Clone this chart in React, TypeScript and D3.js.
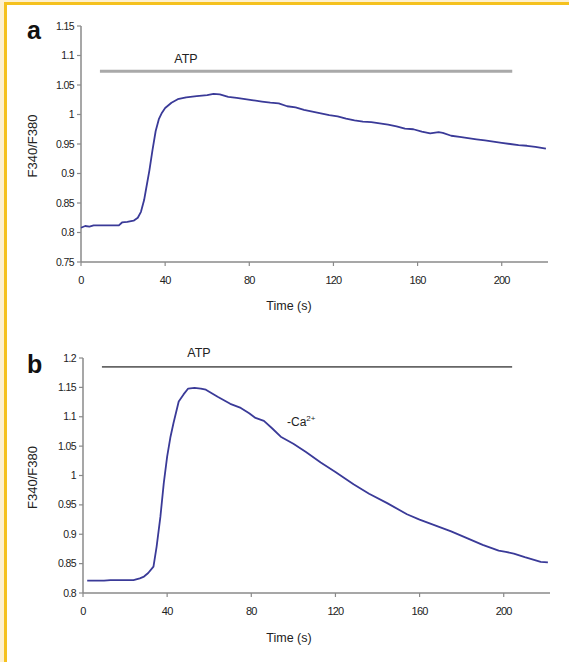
import React from 'react';
import * as d3 from 'd3';

// panel a: time (s) and F340/F380 ratio
const timeA = [0, 2, 4, 6, 10, 14, 18, 19.5, 22, 25, 27, 28.5, 30, 31, 32.5, 34, 35.5, 37, 38.5, 40, 43, 46, 50, 55, 60, 63, 66, 70, 74, 78, 82, 86, 90, 94, 98, 102, 106, 110, 114, 118, 122, 126, 130, 134, 138, 142, 146, 150, 154, 158, 162, 166, 170, 172, 176, 180, 184, 188, 192, 196, 200, 204, 208, 212, 216, 221];
const ratioA = [0.808, 0.811, 0.81, 0.812, 0.812, 0.812, 0.812, 0.817, 0.818, 0.82, 0.825, 0.835, 0.855, 0.875, 0.905, 0.94, 0.972, 0.992, 1.003, 1.011, 1.02, 1.026, 1.029, 1.031, 1.033, 1.035, 1.034, 1.03, 1.028, 1.026, 1.024, 1.022, 1.02, 1.019, 1.014, 1.012, 1.008, 1.005, 1.002, 0.999, 0.997, 0.993, 0.99, 0.988, 0.987, 0.985, 0.983, 0.98, 0.976, 0.975, 0.971, 0.968, 0.97, 0.969, 0.964, 0.962, 0.96, 0.958, 0.956, 0.954, 0.952, 0.95, 0.948, 0.947, 0.945, 0.942];

// panel b
const timeB = [2, 10, 13, 24, 27, 29, 31, 33.5, 35, 36.8, 38.4, 40, 41.6, 43, 45.5, 47.8, 50, 53, 56, 58.4, 64, 70, 75, 79, 82, 86, 90, 94, 100, 106, 113, 120, 128.6, 136, 144.6, 154, 160, 166.7, 175, 182.8, 190, 197.6, 201, 204.8, 210, 217.6, 221];
const ratioB = [0.821, 0.821, 0.822, 0.822, 0.825, 0.828, 0.834, 0.845, 0.879, 0.93, 0.987, 1.032, 1.066, 1.089, 1.126, 1.138, 1.148, 1.149, 1.148, 1.146, 1.134, 1.122, 1.115, 1.106, 1.098, 1.093, 1.08, 1.066, 1.054, 1.04, 1.022, 1.006, 0.985, 0.969, 0.953, 0.934, 0.925, 0.916, 0.905, 0.893, 0.882, 0.872, 0.87, 0.867, 0.861, 0.853, 0.852];

const xTicks = [0, 40, 80, 120, 160, 200];
const yTicksA = [0.75, 0.8, 0.85, 0.9, 0.95, 1, 1.05, 1.1, 1.15];
const yTickLabelsA = ['0.75', '0.8', '0.85', '0.9', '0.95', '1', '1.05', '1.1', '1.15'];
const yTicksB = [0.8, 0.85, 0.9, 0.95, 1, 1.05, 1.1, 1.15, 1.2];
const yTickLabelsB = ['0.8', '0.85', '0.9', '0.95', '1', '1.05', '1.1', '1.15', '1.2'];

// ATP bar: start / end time and level
const atpA = [9, 205, 1.0735];
const atpB = [9, 204, 1.185];

const width = 569;
const height = 662;
const font = 'Liberation Sans, Arial, sans-serif';
const axisColor = '#8a8a8a';
const lineColor = '#3a3a98';

type PanelProps = {
  letter: string;
  times: number[];
  values: number[];
  yDomain: [number, number];
  yTicks: number[];
  yLabels: string[];
  xRange: [number, number];
  yRange: [number, number];
  atp: number[];
  atpStyle: { stroke: string; width: number };
  atpTextY: number;
  atpTextX: number;
  timeLabelY: number;
  letterY: number;
  children?: (x: d3.ScaleLinear<number, number>, y: d3.ScaleLinear<number, number>) => React.ReactNode;
};

const Panel = (p: PanelProps) => {
  const x = d3.scaleLinear([0, 222], p.xRange);
  const y = d3.scaleLinear(p.yDomain, p.yRange);
  const line = d3.line<number>()
    .x((_, i) => x(p.times[i]))
    .y(d => y(d))
    .curve(d3.curveLinear);
  const x0 = p.xRange[0];
  const yBase = p.yRange[0];
  const midY = (p.yRange[0] + p.yRange[1]) / 2;

  return (
    <g>
      <text x={27} y={p.letterY} fontFamily={font} fontWeight="bold" fontSize={25} fill="#111">{p.letter}</text>
      {/* y axis */}
      <line x1={x0} x2={x0} y1={p.yRange[1]} y2={yBase} stroke={axisColor} strokeWidth={1.5} />
      {p.yTicks.map((t, i) => (
        <g key={'y' + i}>
          <line x1={x0 - 4} x2={x0} y1={y(t)} y2={y(t)} stroke={axisColor} strokeWidth={1.2} />
          <text x={x0 - 7} y={y(t) + 3.5} textAnchor="end" fontFamily={font} fontSize={10.5} letterSpacing={-0.6} fill="#222">
            {p.yLabels[i]}
          </text>
        </g>
      ))}
      {/* x axis */}
      <line x1={x0} x2={p.xRange[1]} y1={yBase} y2={yBase} stroke={axisColor} strokeWidth={1.5} />
      {xTicks.map(t => (
        <g key={'x' + t}>
          <line x1={x(t)} x2={x(t)} y1={yBase} y2={yBase + 4} stroke={axisColor} strokeWidth={1.2} />
          <text x={x(t)} y={yBase + 22} textAnchor="middle" fontFamily={font} fontSize={11} letterSpacing={-0.8} fill="#222">{t}</text>
        </g>
      ))}
      <text x={289} y={p.timeLabelY} textAnchor="middle" fontFamily={font} fontSize={12.5} fill="#222">Time (s)</text>
      <text transform={`translate(37, ${midY + 2}) rotate(-90)`} textAnchor="middle" fontFamily={font} fontSize={13} fill="#222">F340/F380</text>
      {/* ATP bar */}
      <line x1={x(p.atp[0])} x2={x(p.atp[1])} y1={y(p.atp[2])} y2={y(p.atp[2])} stroke={p.atpStyle.stroke} strokeWidth={p.atpStyle.width} />
      <text x={p.atpTextX} y={p.atpTextY} textAnchor="middle" fontFamily={font} fontSize={12.5} fill="#222">ATP</text>
      <path d={line(p.values) ?? ''} fill="none" stroke={lineColor} strokeWidth={1.8} strokeLinejoin="round" />
      {p.children && p.children(x, y)}
    </g>
  );
};

export default function App() {
  return (
    <div style={{ position: 'fixed', left: 0, top: 0 }}>
      <svg width={width} height={height} style={{ display: 'block', background: '#fff' }}>
        <rect x={0} y={0} width={width} height={2} fill="#fdf0cf" />
        <rect x={0} y={0} width={4} height={height} fill="#fdf0cf" />
        <rect x={4} y={2} width={width - 4} height={3} fill="#f5c11e" />
        <rect x={4} y={2} width={3} height={height - 2} fill="#f5c11e" />
        <Panel
          letter="a"
          times={timeA}
          values={ratioA}
          yDomain={[0.75, 1.15]}
          yTicks={yTicksA}
          yLabels={yTickLabelsA}
          xRange={[81, 548]}
          yRange={[262, 26]}
          atp={atpA}
          atpStyle={{ stroke: '#a9a9a9', width: 3 }}
          atpTextX={186}
          atpTextY={63}
          timeLabelY={310}
          letterY={39}
        />
        <Panel
          letter="b"
          times={timeB}
          values={ratioB}
          yDomain={[0.8, 1.2]}
          yTicks={yTicksB}
          yLabels={yTickLabelsB}
          xRange={[83, 550]}
          yRange={[593, 358]}
          atp={atpB}
          atpStyle={{ stroke: '#666', width: 1.8 }}
          atpTextX={199}
          atpTextY={357}
          timeLabelY={642}
          letterY={373}
        >
          {() => (
            <text x={287} y={426} fontFamily={font} fontSize={12} fill="#222">
              -Ca<tspan fontSize={8} dy={-5}>2+</tspan>
            </text>
          )}
        </Panel>
      </svg>
    </div>
  );
}
